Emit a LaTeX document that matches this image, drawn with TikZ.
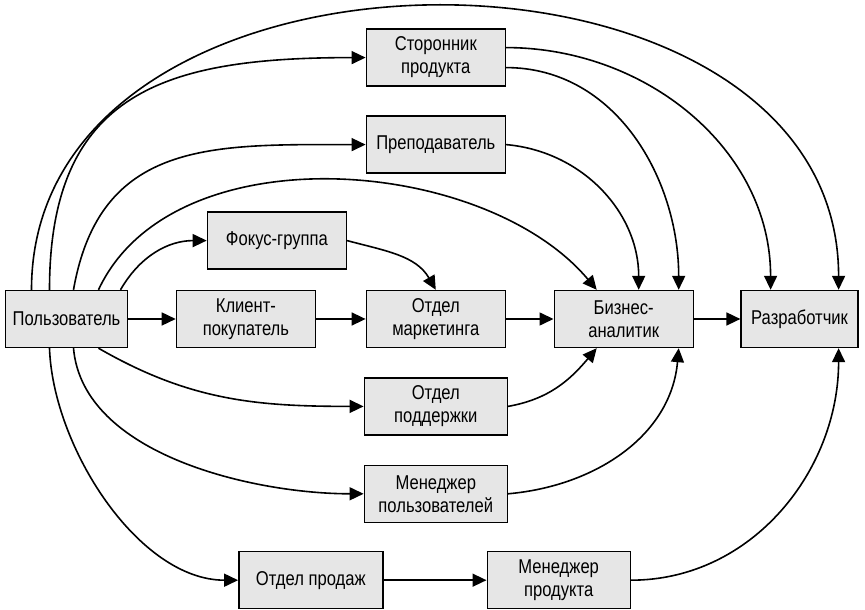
\documentclass[tikz,border=0pt]{standalone}
\usepackage{fontspec}
\setmainfont{Liberation Sans}[FakeStretch=0.83]
\usepackage{tikz}
\usetikzlibrary{arrows.meta, positioning}
\definecolor{boxgray}{RGB}{230,230,230}
\tikzset{
    base/.style={draw=black, line width=1.4pt, font=\fontsize{20}{23}\selectfont, align=center, inner sep=2pt},
    block/.style={base, rectangle, fill=boxgray, minimum width=139pt, minimum height=57pt},
    line/.style={draw=black, line width=1.6pt, -{Triangle[length=14pt, width=13pt]}}
}
\begin{document}
\begin{tikzpicture}[x=1pt, y=1pt, node distance=49pt]
    \useasboundingbox (0,0) rectangle (865,610);
    \node [block, minimum width=122pt] (User) at (66.5,291) {Пользователь};
    \node [block, right=47.5pt of User] (Client) {Клиент-\\покупатель};
    \node [block, right=49.5pt of Client] (Marketing) {Отдел\\маркетинга};
    \node [block, right=47.5pt of Marketing] (Analyst) {Бизнес-\\аналитик};
    \node [block, minimum width=117pt, right=46.5pt of Analyst] (Developer) {Разработчик};
    \node [block, above=203pt of Marketing] (Supporter) {Сторонник\\продукта};
    \node [block, above=116pt of Marketing] (Teacher) {Преподаватель};
    \node [block, above=20pt of Client, xshift=31pt] (Focus) {Фокус-группа};
    \node [block, minimum width=143pt, below=29pt of Marketing] (Support) {Отдел\\поддержки};
    \node [block, minimum width=143pt, below=29pt of Support] (UserMgr) {Менеджер\\пользователей};
    \node [block, minimum width=144pt, below=28pt of UserMgr, xshift=-125pt] (Sales) {Отдел продаж};
    \node [block, minimum width=143pt, right=103pt of Sales] (ProductMgr) {Менеджер\\продукта};

    \path [line] (User) -- (Client);
    \path [line] (Client) -- (Marketing);
    \path [line] (Marketing) -- (Analyst);
    \path [line] (Analyst) -- (Developer);
    \path [line] (Sales) -- (ProductMgr);
    \path [line] (Focus.east) to [out=-15, in=120] (Marketing.north);

    \path [line] ([xshift=-35pt]User.north) to [out=90, in=90, looseness=1.2] ([xshift=39pt]Developer.north);
    \path [line] ([xshift=-17pt]User.north) to [out=90, in=180, looseness=1.3] (Supporter.west);
    \path [line] ([xshift=7pt]User.north) to [out=80, in=180, looseness=1.2] (Teacher.west);
    \path [line] ([xshift=32pt]User.north) to [out=65, in=130, looseness=0.9] ([xshift=-27pt]Analyst.north);
    \path [line] ([xshift=54pt]User.north) to [out=60, in=180] (Focus.west);

    \path [line] ([yshift=10pt]Supporter.east) to [out=0, in=90] ([xshift=-29pt]Developer.north);
    \path [line] ([yshift=-10pt]Supporter.east) to [out=0, in=90] ([xshift=55pt]Analyst.north);
    \path [line] (Teacher.east) to [out=-5, in=90] ([xshift=15pt]Analyst.north);

    \path [line] ([xshift=32pt]User.south) to [out=-30, in=180] (Support.west);
    \path [line] ([xshift=7pt]User.south) to [out=-85, in=180, looseness=0.85] (UserMgr.west);
    \path [line] ([xshift=-17pt]User.south) to [out=-88, in=180, looseness=0.85] (Sales.west);
    \path [line] (Support.east) to [out=10, in=-130] ([xshift=-27pt]Analyst.south);
    \path [line] (UserMgr.east) to [out=5, in=-95] ([xshift=55pt]Analyst.south);
    \path [line] (ProductMgr.east) to [out=0, in=-90] ([xshift=39pt]Developer.south);
\end{tikzpicture}
\end{document}
